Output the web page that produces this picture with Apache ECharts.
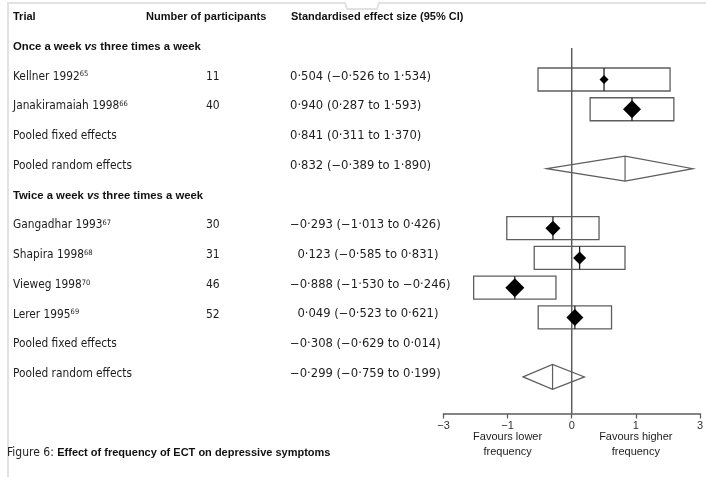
<!DOCTYPE html>
<html>
<head>
<meta charset="utf-8">
<script src="https://cdn.jsdelivr.net/npm/echarts@6/dist/echarts.min.js"></script>
<style>
  html, body { margin: 0; padding: 0; background: #fff; }
  #chart { width: 706px; height: 477px; }
</style>
</head>
<body>
<div id="chart"></div>
<script>
// ---- Trial data ----
const trialNames   = ['Kellner 1992', 'Janakiramaiah 1998', 'Gangadhar 1993', 'Shapira 1998', 'Vieweg 1998', 'Lerer 1995'];
const trialRefs    = ['65', '66', '67', '68', '70', '69'];
const trialGroup   = [0, 0, 1, 1, 1, 1];
const participants = [11, 40, 30, 31, 46, 52];
const estimates    = [0.504, 0.940, -0.293, 0.123, -0.888, 0.049];
const ciLower      = [-0.526, 0.287, -1.013, -0.585, -1.530, -0.523];
const ciUpper      = [1.534, 1.593, 0.426, 0.831, -0.246, 0.621];
const trialWeights = [9, 18, 15, 13, 19, 17];

// ---- Pooled results per comparison ----
const groupTitles  = ['Once a week vs three times a week', 'Twice a week vs three times a week'];
const fixedEst     = [0.841, -0.308];
const fixedLower   = [0.311, -0.629];
const fixedUpper   = [1.370, 0.014];
const randomEst    = [0.832, -0.299];
const randomLower  = [-0.389, -0.759];
const randomUpper  = [1.890, 0.199];

// ---- Labels ----
const columnHeaders   = ['Trial', 'Number of participants', 'Standardised effect size (95% CI)'];
const pooledLabels    = ['Pooled fixed effects', 'Pooled random effects'];
const tickValues      = [-2, -1, 0, 1, 2];
const tickLabels      = ['−3', '−1', '0', '1', '3'];
const directionAt     = [-1, 1];
const directionLabels = ['Favours lower\nfrequency', 'Favours higher\nfrequency'];
const captionLead     = 'Figure 6: ';
const captionText     = 'Effect of frequency of ECT on depressive symptoms';

// ---- Layout / style ----
const FONT = "'Liberation Sans', Arial, sans-serif";
const NARROW = "'Liberation Sans Narrow', 'Arial Narrow', 'DejaVu Sans Condensed', sans-serif";
const NUMERIC = "'DejaVu Sans', sans-serif";
const TEXT_COLOR = '#1c1c1c';
const LINE_COLOR = '#5e5e5e';
const Y_MAX = 13.23;
const ROW_BOX = 23;
const COL_X = [13, 206, 290];
const HEADER_X = [13, 146, 291];

// Build the row list: header, then each comparison with its trials and pooled rows
const rows = [{ kind: 'header' }];
groupTitles.forEach((title, g) => {
  rows.push({ kind: 'group', g });
  trialNames.forEach((n, i) => { if (trialGroup[i] === g) rows.push({ kind: 'trial', i }); });
  rows.push({ kind: 'fixed', g });
  rows.push({ kind: 'random', g });
});

const fmt = v => (v < 0 ? '−' : '') + Math.abs(v).toFixed(3).replace('.', '·');
const groupHasNegative = g => estimates.some((e, i) => trialGroup[i] === g && e < 0) || fixedEst[g] < 0 || randomEst[g] < 0;
function effectText(est, lo, hi, g) {
  const pad = (est >= 0 && groupHasNegative(g)) ? '\u2007' : '';
  return pad + fmt(est) + ' (' + fmt(lo) + ' to ' + fmt(hi) + ')';
}

const trialData = trialNames.map((n, i) => [estimates[i], rows.findIndex(r => r.kind === 'trial' && r.i === i), ciLower[i], ciUpper[i], trialWeights[i]]);
const randomData = groupTitles.map((t, g) => [randomEst[g], rows.findIndex(r => r.kind === 'random' && r.g === g), randomLower[g], randomUpper[g]]);

const chart = echarts.init(document.getElementById('chart'), null, { renderer: 'canvas' });

function txt(x, y, text, opts) {
  return {
    type: 'text', x, y,
    style: Object.assign({
      text, fill: TEXT_COLOR, fontFamily: NARROW, fontSize: 11.8,
      verticalAlign: 'middle', align: 'left'
    }, opts || {})
  };
}

const boldRich = {
  b: { fontFamily: FONT, fontWeight: 'bold', fontSize: 11.3, fill: '#111' },
  bi: { fontFamily: FONT, fontWeight: 'bold', fontStyle: 'italic', fontSize: 11.3, fill: '#111' }
};
const effectStyle = { fontFamily: NUMERIC, fontSize: 11.6 };

function renderRow(params, api) {
  const r = rows[params.dataIndex];
  const y = api.coord([0, params.dataIndex])[1] - 3;
  const out = [];
  if (r.kind === 'header') {
    columnHeaders.forEach((h, c) => out.push(txt(HEADER_X[c], y, h,
      { fontFamily: FONT, fontWeight: 'bold', fontSize: 11, fill: '#111' })));
  } else if (r.kind === 'group') {
    const parts = groupTitles[r.g].split(' vs ');
    out.push(txt(COL_X[0], y, '{b|' + parts[0] + ' }{bi|vs}{b| ' + parts[1] + '}', { rich: boldRich }));
  } else if (r.kind === 'trial') {
    const i = r.i;
    out.push(txt(COL_X[0], y, trialNames[i] + '{sup|' + trialRefs[i] + '}', {
      rich: { sup: { fontFamily: NARROW, fontSize: 7.5, fill: TEXT_COLOR, verticalAlign: 'top' } }
    }));
    out.push(txt(COL_X[1], y, String(participants[i]), { fontSize: 12 }));
    out.push(txt(COL_X[2], y, effectText(estimates[i], ciLower[i], ciUpper[i], trialGroup[i]), effectStyle));
  } else if (r.kind === 'fixed') {
    out.push(txt(COL_X[0], y, pooledLabels[0]));
    out.push(txt(COL_X[2], y, effectText(fixedEst[r.g], fixedLower[r.g], fixedUpper[r.g], r.g), effectStyle));
  } else if (r.kind === 'random') {
    out.push(txt(COL_X[0], y, pooledLabels[1]));
    out.push(txt(COL_X[2], y, effectText(randomEst[r.g], randomLower[r.g], randomUpper[r.g], r.g), effectStyle));
  }
  return { type: 'group', children: out };
}

function renderTrial(params, api) {
  const est = api.value(0), row = api.value(1), lo = api.value(2), hi = api.value(3), w = api.value(4);
  const [xe, y] = api.coord([est, row]);
  const xl = api.coord([lo, row])[0];
  const xh = api.coord([hi, row])[0];
  const s = w / 2;
  return {
    type: 'group',
    children: [
      { type: 'rect', shape: { x: xl, y: y - ROW_BOX / 2, width: xh - xl, height: ROW_BOX },
        style: { fill: 'none', stroke: LINE_COLOR, lineWidth: 1.3 } },
      { type: 'line', shape: { x1: xe, y1: y - ROW_BOX / 2, x2: xe, y2: y + ROW_BOX / 2 },
        style: { stroke: '#222', lineWidth: 1.3 } },
      { type: 'polygon', shape: { points: [[xe - s, y], [xe, y - s], [xe + s, y], [xe, y + s]] },
        style: { fill: '#000' } }
    ]
  };
}

function renderRandom(params, api) {
  const est = api.value(0), row = api.value(1), lo = api.value(2), hi = api.value(3);
  const [xe, y] = api.coord([est, row]);
  const xl = api.coord([lo, row])[0];
  const xh = api.coord([hi, row])[0];
  const h = 12.5;
  return {
    type: 'group',
    children: [
      { type: 'polygon', shape: { points: [[xl, y], [xe, y - h], [xh, y], [xe, y + h]] },
        style: { fill: 'none', stroke: LINE_COLOR, lineWidth: 1.2 } },
      { type: 'line', shape: { x1: xe, y1: y - h, x2: xe, y2: y + h },
        style: { stroke: LINE_COLOR, lineWidth: 1.2 } }
    ]
  };
}

function renderDirection(params, api) {
  const xv = api.value(0);
  const [x, yb] = api.coord([xv, Y_MAX]);
  return txt(x, yb + 16, directionLabels[params.dataIndex], {
    align: 'center', verticalAlign: 'top', lineHeight: 15, fontSize: 11, fontFamily: FONT
  });
}

chart.setOption({
  animation: false,
  backgroundColor: '#fff',
  grid: { left: 443.5, right: 2.5, top: 20, bottom: 63.5 },
  xAxis: {
    type: 'value', min: -2, max: 2, interval: 1, position: 'bottom',
    splitLine: { show: false },
    axisLine: { onZero: false, lineStyle: { color: LINE_COLOR, width: 1.5 } },
    axisTick: { inside: false, length: 5, lineStyle: { color: LINE_COLOR, width: 1.3 } },
    axisLabel: {
      margin: 7, fontFamily: FONT, fontSize: 11, color: '#333',
      formatter: v => tickLabels[tickValues.indexOf(v)]
    }
  },
  yAxis: { type: 'value', inverse: true, min: 0, max: Y_MAX, show: false },
  series: [
    { type: 'line', data: [[0, 0.94], [0, Y_MAX]], symbol: 'none', silent: true,
      lineStyle: { color: LINE_COLOR, width: 1.5 }, z: 1 },
    { type: 'custom', name: 'rows', data: rows.map((r, idx) => [0, idx]), encode: { x: 0, y: 1 },
      renderItem: renderRow, z: 3 },
    { type: 'custom', name: 'trials', data: trialData, encode: { x: [0, 2, 3], y: 1 },
      renderItem: renderTrial, z: 2 },
    { type: 'custom', name: 'pooledRandom', data: randomData, encode: { x: [0, 2, 3], y: 1 },
      renderItem: renderRandom, z: 2 },
    { type: 'custom', name: 'direction', data: directionAt.map((x, i) => [x, i]), encode: { x: 0 },
      renderItem: renderDirection, z: 2 }
  ],
  graphic: [
    { type: 'polyline', silent: true,
      shape: { points: [[8, 477], [8, 3], [345, 3], [347, 9], [377, 9], [379, 3], [706, 3]] },
      style: { stroke: '#e2e2e2', lineWidth: 2, fill: null } },
    { type: 'text', left: 7, top: 447,
      style: {
        text: '{r|' + captionLead + '}{b|' + captionText + '}',
        rich: {
          r: { fontFamily: NARROW, fontSize: 12, fill: '#222' },
          b: { fontFamily: FONT, fontWeight: 'bold', fontSize: 11, fill: '#111' }
        }
      } }
  ]
});
</script>
</body>
</html>
